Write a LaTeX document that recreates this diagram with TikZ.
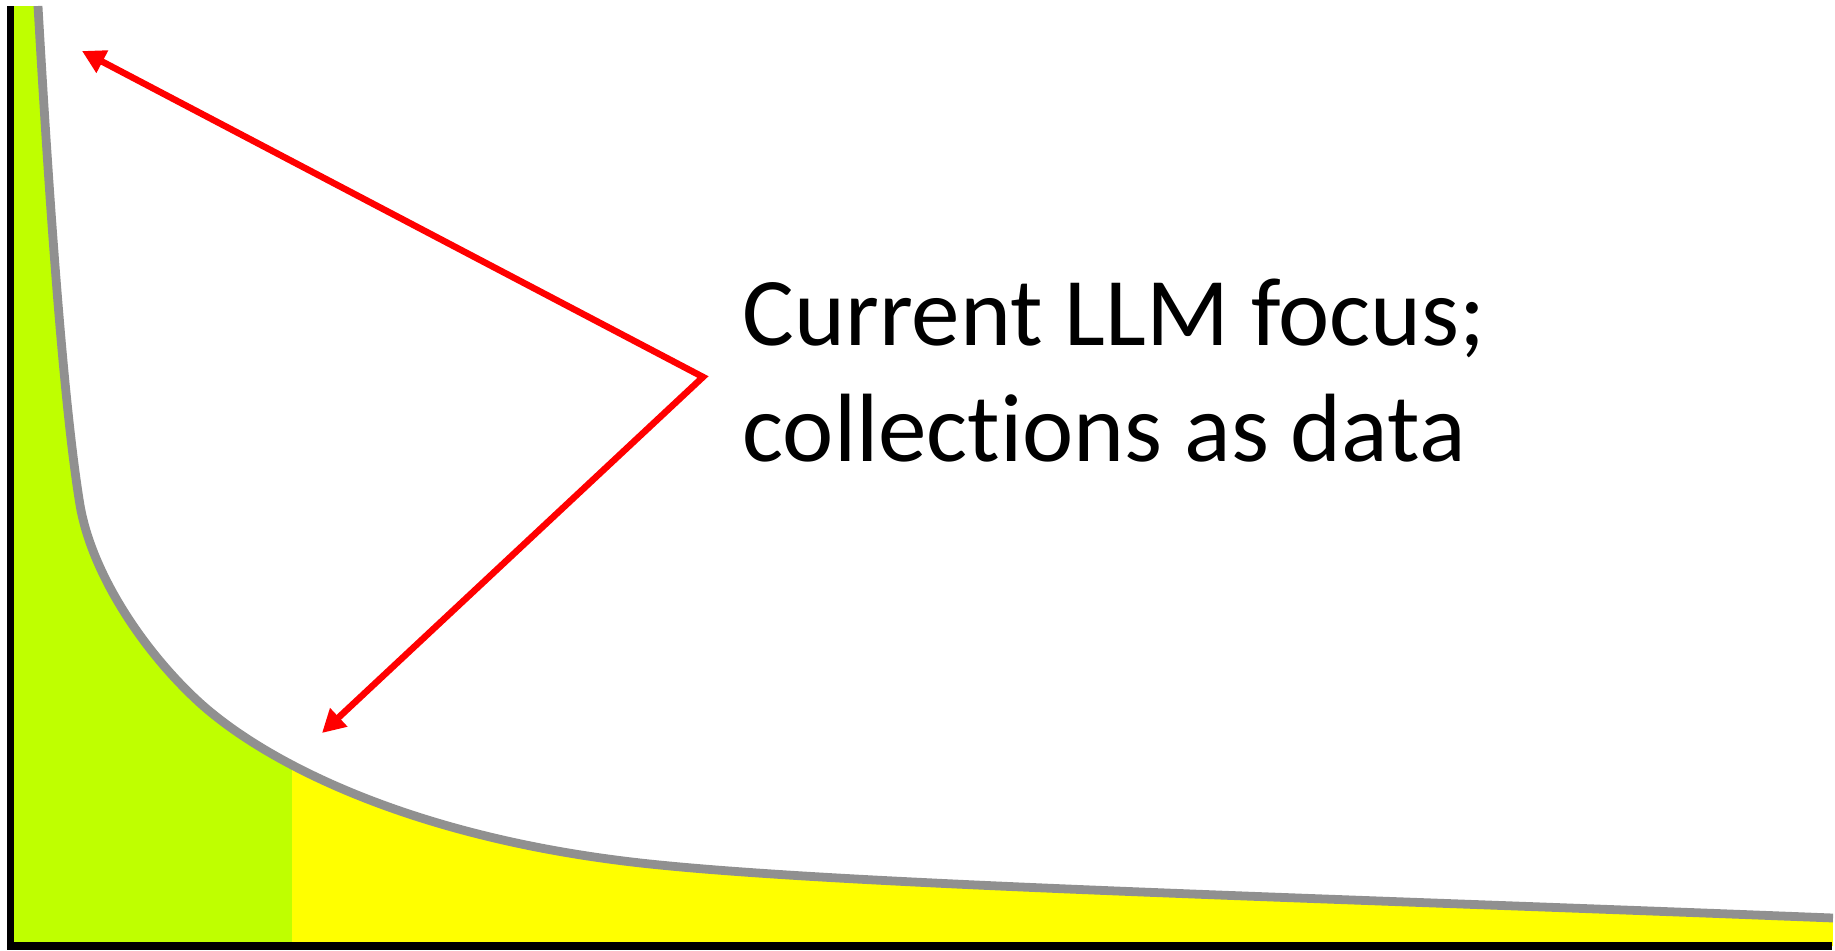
\documentclass[tikz,border=0pt]{standalone}
\usepackage{fontspec}
\setmainfont{Carlito}[Ligatures=NoCommon]
\usetikzlibrary{arrows.meta}
\definecolor{headgreen}{RGB}{191,255,0}
\definecolor{tailyellow}{RGB}{255,255,0}
\definecolor{curvegray}{RGB}{144,144,144}
\begin{document}
\begin{tikzpicture}[x=0.01cm,y=-0.01cm,
    axis/.style={line width=2.1pt,black},
    curve/.style={line width=2.5pt,curvegray},
    pointer/.style={line width=1.85pt,red,
        {Triangle[length=0.23cm,width=0.24cm]}-{Triangle[length=0.23cm,width=0.24cm]}},
    label/.style={inner sep=0pt,anchor=base west,font=\fontsize{27.6}{33}\selectfont}]
    \useasboundingbox (0,0) rectangle (1835,951);
    %
    \begin{scope}
        \clip (14,946) -- (14,6) -- (38,6) .. controls (52,250) and (66,420) .. (80,505)
            .. controls (92,575) and (145,653) .. (200,703)
            .. controls (270,766) and (420,840) .. (650,864)
            .. controls (850,885) and (1300,897) .. (1833,918) -- (1833,946) -- cycle;
        \fill[headgreen] (14,0) rectangle (292,951);
        \fill[tailyellow] (292,0) rectangle (1833,951);
    \end{scope}
    \draw[curve] (38,6) .. controls (52,250) and (66,420) .. (80,505)
        .. controls (92,575) and (145,653) .. (200,703)
        .. controls (270,766) and (420,840) .. (650,864)
        .. controls (850,885) and (1300,897) .. (1833,918);
    %
    \draw[axis] (10.5,6) -- (10.5,946) -- (1832,946);
    %
    \coordinate (headtip) at (82,51);
    \coordinate (bend) at (703,377);
    \coordinate (tailtip) at (322,733);
    \draw[pointer] (headtip) -- (bend) -- (tailtip);
    %
    \node[label] (focus) at (742,345) {Current LLM focus;};
    \node[label] (collections) at (742,461) {collections as data};
\end{tikzpicture}
\end{document}
